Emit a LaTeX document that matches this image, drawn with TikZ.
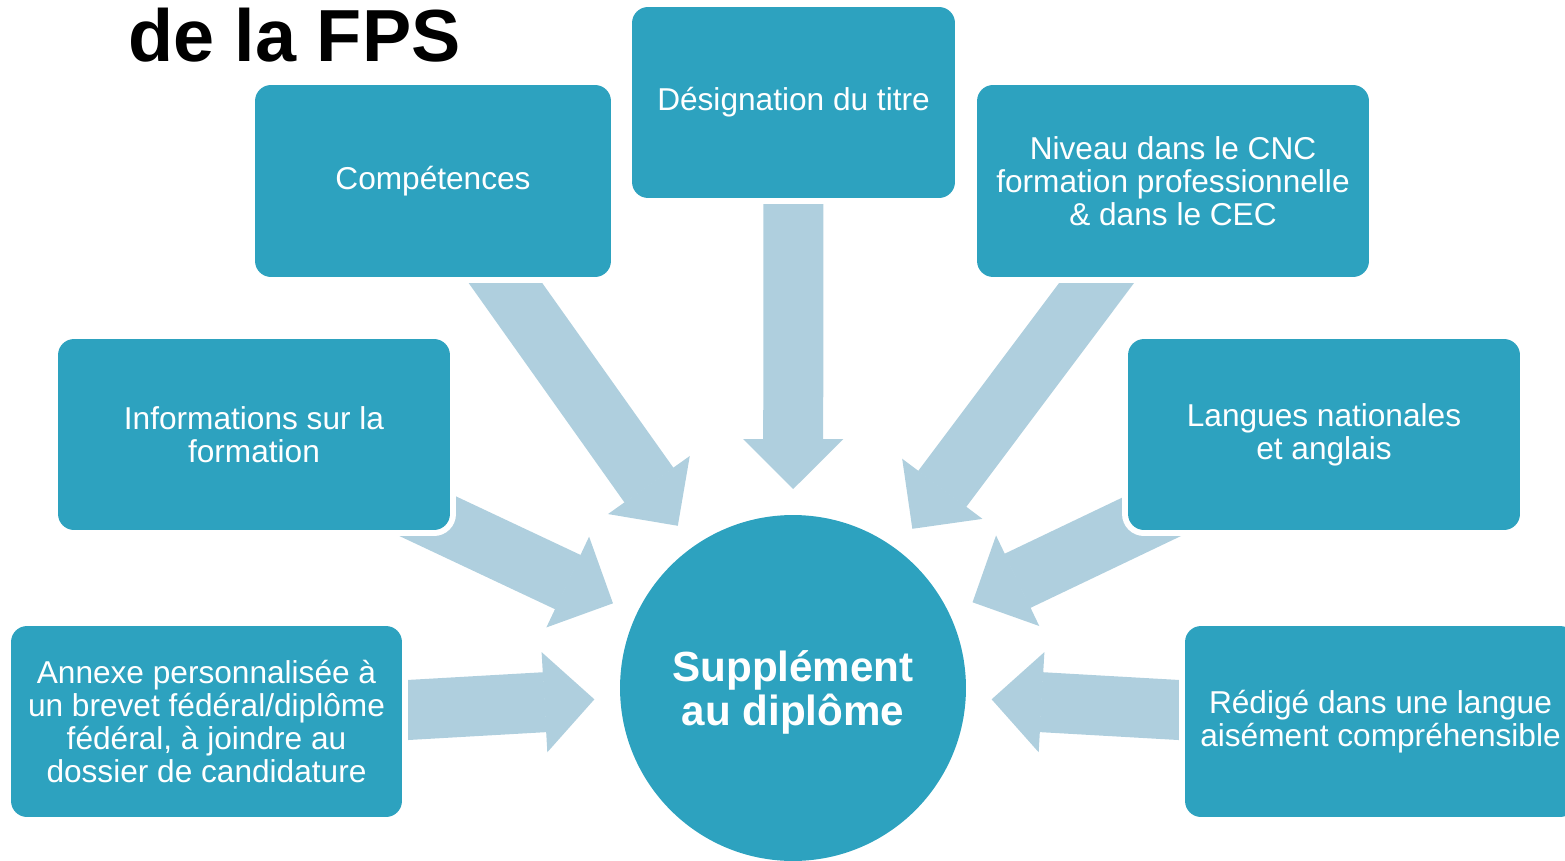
\documentclass[tikz,border=0pt]{standalone}
\usepackage{fontspec}
\setmainfont{Liberation Sans}
\usetikzlibrary{arrows.meta,backgrounds}
\definecolor{boxteal}{HTML}{2DA2BF}
\definecolor{arrowblue}{HTML}{AFCFDE}

\begin{document}
\begin{tikzpicture}[x=0.02cm,y=0.02cm,
	box/.style={rectangle,rounded corners=0.32cm,fill=boxteal,text=white,align=center,inner sep=0pt,
		preaction={draw=white,line width=0.24cm},font=\fontsize{18}{18.8}\selectfont},
	hub/.style={circle,fill=boxteal,inner sep=0pt,outer sep=0pt,minimum size=6.92cm},
	hubtext/.style={text=white,align=center,inner sep=0pt,font=\bfseries\fontsize{24}{25}\selectfont},
	flow/.style={draw=arrowblue,line width=1.2cm,-{Triangle[width=2cm,length=1cm,line width=1pt]},shorten >=0.52cm}]
	\useasboundingbox (0,0) rectangle (1565,860);
	\node[anchor=base west,inner sep=0pt,font=\bfseries\fontsize{42}{44}\selectfont] (title) at (128,798) {de la FPS};
	\node[hub] (sup) at (793,172) {};
	\node[hubtext] (suptext) at (793,168) {Supplément\\au diplôme};
	\node[box,minimum width=7.12cm,minimum height=3.84cm] (comp) at (433,679) {Compétences};
	\node[box,minimum width=6.46cm,minimum height=3.82cm] (titre) at (793.5,757.5) {Désignation du titre};
	\node[box,minimum width=7.84cm,minimum height=3.84cm] (niveau) at (1173,679) {Niveau dans le CNC\\formation professionnelle\\\& dans le CEC};
	\node[box,minimum width=7.84cm,minimum height=3.82cm] (info) at (254,425.5) {Informations sur la\\formation};
	\node[box,minimum width=7.84cm,minimum height=3.82cm] (langues) at (1324,425.5) {Langues nationales\\et anglais};
	\node[box,minimum width=7.82cm,minimum height=3.82cm] (annexe) at (206.5,138.5) {Annexe personnalisée à\\un brevet fédéral/diplôme\\fédéral, à joindre au\\dossier de candidature};
	\node[box,minimum width=7.82cm,minimum height=3.82cm] (redige) at (1380.5,138.5) {Rédigé dans une langue\\aisément compréhensible};
	\begin{scope}[on background layer]
		\foreach \n in {comp,titre,niveau,info,langues,annexe,redige}
		\draw[flow] (\n.center) -- (sup);
	\end{scope}
\end{tikzpicture}
\end{document}
